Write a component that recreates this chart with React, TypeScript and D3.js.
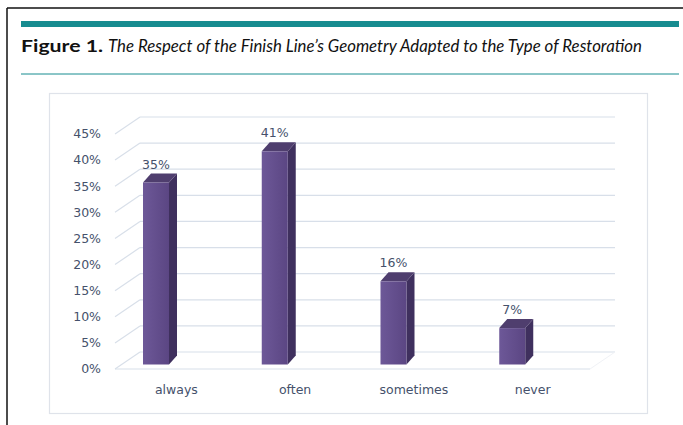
import React from "react";
import * as d3 from "d3";

const categories = ["always", "often", "sometimes", "never"];
const values = [35, 41, 16, 7];
const yTicks = [0, 5, 10, 15, 20, 25, 30, 35, 40, 45];
const titleBold = "Figure 1.";
const titleItalic = "The Respect of the Finish Line’s Geometry Adapted to the Type of Restoration";

const W = 683;
const H = 425;

export default function App() {
  const x = d3.scaleBand<string>().domain(categories).range([115, 590]);
  const y = d3.scaleLinear().domain([0, 45]).range([369, 134]);
  const barY = d3.scaleLinear().domain([0, 45]).range([364.5, 130.5]);
  const wallDx = 25;
  const wallDy = -17;
  const bDx = 8;
  const bDy = -9;
  const bw = 26;
  const textColor = "#45516b";
  const grid = "#d8dfe9";
  const font = "'DejaVu Sans', Verdana, sans-serif";

  return (
    <svg width={W} height={H} style={{ position: "absolute", left: 0, top: 0, background: "#fff" }}>
      <defs>
        <linearGradient id="front" x1="0" x2="1" y1="0" y2="0">
          <stop offset="0" stopColor="#6d5898" />
          <stop offset="1" stopColor="#5b4683" />
        </linearGradient>
      </defs>
      {/* outer frame */}
      <line x1={7} y1={8} x2={683} y2={8} stroke="#111" strokeWidth={1.5} />
      <line x1={7} y1={8} x2={7} y2={425} stroke="#111" strokeWidth={1.5} />
      {/* teal bar */}
      <rect x={21} y={21} width={658} height={6} fill="#178c90" />
      <text x={21} y={52} fontFamily="Lato, 'Open Sans', sans-serif" fontWeight="bold" fontSize={17.5} fill="#111" textLength={82} lengthAdjust="spacingAndGlyphs">
        {titleBold}
      </text>
      <text x={108} y={52} fontFamily="Lato, 'Open Sans', sans-serif" fontStyle="italic" fontSize={17} fill="#111" textLength={534} lengthAdjust="spacingAndGlyphs">
        {titleItalic}
      </text>
      <line x1={21} y1={74} x2={679} y2={74} stroke="#178c90" strokeWidth={1} />

      {/* chart box */}
      <rect x={49.5} y={93.5} width={598} height={320} fill="#fff" stroke="#dfe3ea" strokeWidth={1.2} />

      {/* wall gridlines */}
      {yTicks.map((t) => (
        <g key={t}>
          <line x1={115} y1={y(t)} x2={115 + wallDx} y2={y(t) + wallDy} stroke={grid} strokeWidth={1.2} />
          <line x1={115 + wallDx} y1={y(t) + wallDy} x2={590 + wallDx} y2={y(t) + wallDy} stroke={grid} strokeWidth={1.2} />
          <text x={101} y={y(t)} dy="0.35em" textAnchor="end" fontFamily={font} fontSize={12.5} fill={textColor}>
            {t}%
          </text>
        </g>
      ))}
      {/* floor front edge */}
      <line x1={115} y1={y(0)} x2={590} y2={y(0)} stroke={grid} strokeWidth={1.2} />
      <line x1={590} y1={y(0)} x2={590 + wallDx} y2={y(0) + wallDy} stroke="#f0f2f6" strokeWidth={1} />

      {/* bars */}
      {categories.map((c, i) => {
        const x0 = (x(c) as number) + 28;
        const x1 = x0 + bw;
        const yt = barY(values[i]);
        const yb = barY(0);
        return (
          <g key={c}>
            <polygon
              points={`${x1},${yt} ${x1 + bDx},${yt + bDy} ${x1 + bDx},${yb + bDy} ${x1},${yb}`}
              fill="#3f305e"
            />
            <polygon
              points={`${x0},${yt} ${x0 + bDx},${yt + bDy} ${x1 + bDx},${yt + bDy} ${x1},${yt}`}
              fill="#4f3e6e"
            />
            <rect x={x0} y={yt} width={bw} height={yb - yt} fill="url(#front)" />
            <text x={x0 + bw / 2} y={yt - 14} textAnchor="middle" fontFamily={font} fontSize={12.5} fill={textColor}>
              {values[i]}%
            </text>
            <text
              x={(x(c) as number) + x.bandwidth() / 2 + 2}
              y={390}
              dy="0.35em"
              textAnchor="middle"
              fontFamily={font}
              fontSize={12.5}
              fill={textColor}
            >
              {c}
            </text>
          </g>
        );
      })}
    </svg>
  );
}
